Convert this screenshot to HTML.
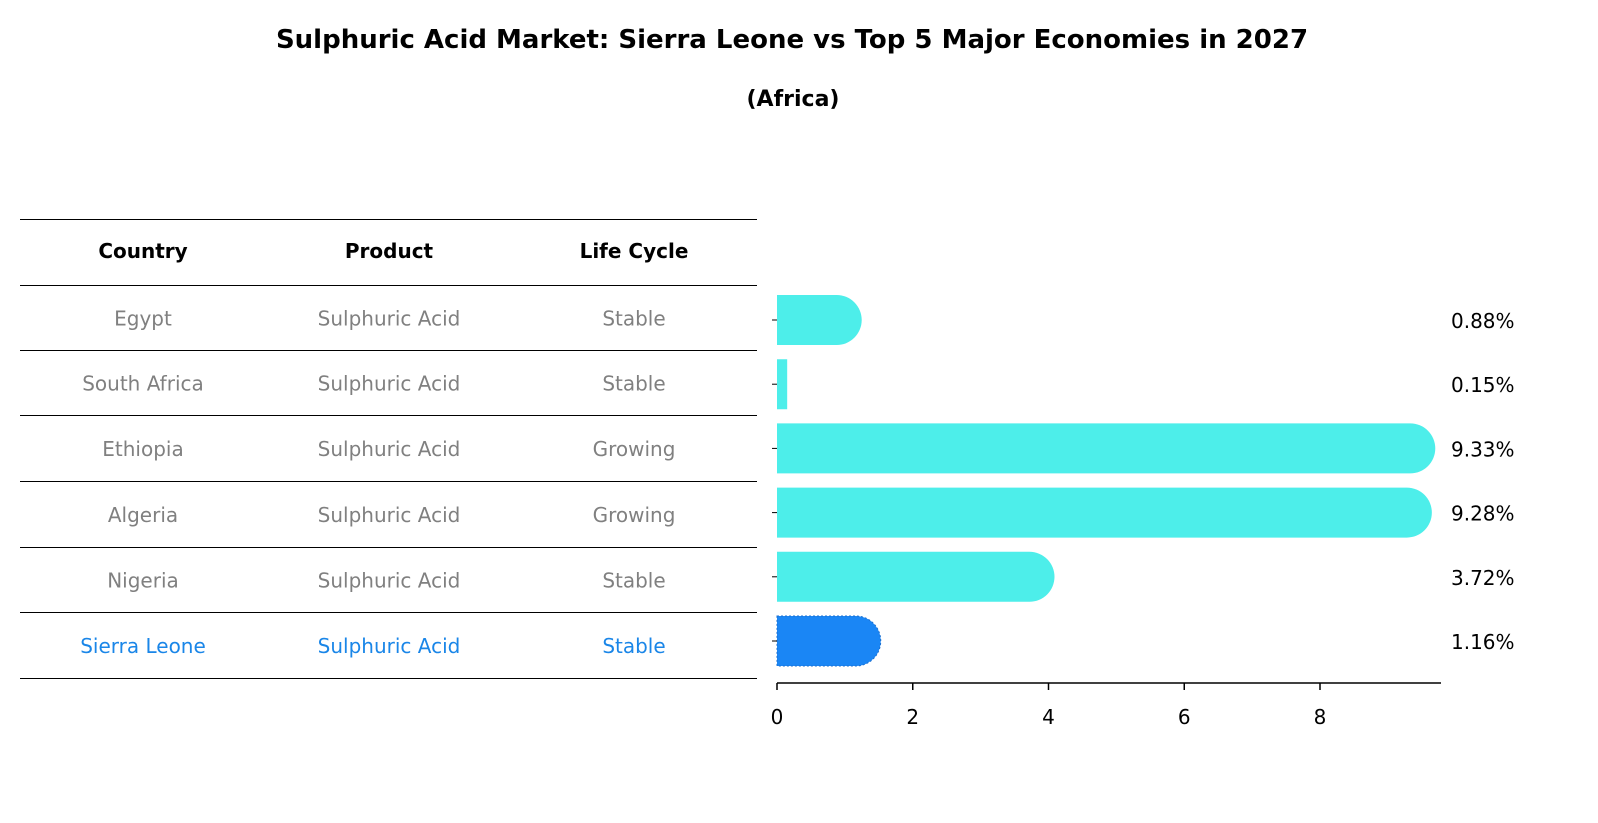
<!DOCTYPE html>
<html><head><meta charset="utf-8"><style>
body{margin:0;background:#fff;font-family:"DejaVu Sans","Liberation Sans",sans-serif}
svg{display:block}
</style></head><body>
<svg id="c" width="1598" height="823" xmlns="http://www.w3.org/2000/svg" font-family="DejaVu Sans, Liberation Sans, sans-serif">
<text x="792" y="48" text-anchor="middle" font-size="26" font-weight="bold">Sulphuric Acid Market: Sierra Leone vs Top 5 Major Economies in 2027</text>
<text x="793" y="106" text-anchor="middle" font-size="22" font-weight="bold">(Africa)</text>
<g id="tbl"></g>
<g id="bars"></g>
</svg>
<script>
const countries=["Egypt","South Africa","Ethiopia","Algeria","Nigeria","Sierra Leone"];
const products=["Sulphuric Acid","Sulphuric Acid","Sulphuric Acid","Sulphuric Acid","Sulphuric Acid","Sulphuric Acid"];
const lifeCycles=["Stable","Stable","Growing","Growing","Stable","Stable"];
const values=[0.88,0.15,9.33,9.28,3.72,1.16];
const xTicks=[0,2,4,6,8];
const NS="http://www.w3.org/2000/svg";
function mk(tag,attrs,parent,txt){const e=document.createElementNS(NS,tag);for(const k in attrs)e.setAttribute(k,attrs[k]);if(txt!==undefined)e.textContent=txt;parent.appendChild(e);return e;}
const x0=777,pxPerUnit=(1320-777)/8;
const xs=v=>x0+v*pxPerUnit;
const rowY=i=>320+i*64.2;
const tbl=document.getElementById('tbl');
const lines=[219,285,350,415,481,547,612,678];
lines.forEach(y=>{const l=mk('line',{x1:20,x2:757,y1:y+0.5,y2:y+0.5,stroke:'#000','stroke-width':1},tbl);

});
const cols=[143,389,634];
["Country","Product","Life Cycle"].forEach((h,j)=>{const t=mk('text',{x:cols[j],y:258,'text-anchor':'middle','font-size':20,'font-weight':'bold'},tbl,h);

});
countries.forEach((c,i)=>{const col=i===countries.length-1?'#1a86e8':'#808080';
[c,products[i],lifeCycles[i]].forEach((v,j)=>{const t=mk('text',{x:cols[j],y:(lines[i+1]+lines[i+2])/2+8,'text-anchor':'middle','font-size':20,fill:col},tbl,v);

});});
const bars=document.getElementById('bars');
const h=50,r=25;
values.forEach((v,i)=>{const y=rowY(i)-h/2,xe=xs(v);const last=i===values.length-1;
const fill=last?'#1a86f5':'#4deeea';let d;
if(xe-x0>r){d=`M${x0},${y}H${xe}A${r},${r} 0 0 1 ${xe},${y+h}H${x0}Z`;}else{d=`M${x0},${y}H${xe}V${y+h}H${x0}Z`;}
const p=mk('path',{d:d,fill:fill},bars);
if(last){p.setAttribute('stroke','#1a6fd0');p.setAttribute('stroke-dasharray','2,2');p.setAttribute('stroke-width','1');}


const t=mk('text',{x:1451,y:rowY(i)+8,'font-size':20},bars,v.toFixed(2)+'%');


const tk=mk('line',{x1:x0-5,x2:x0,y1:rowY(i),y2:rowY(i),stroke:'#000','stroke-width':1},bars);

});
const ax=mk('line',{x1:x0,x2:1441,y1:683,y2:683,stroke:'#000','stroke-width':1.5},bars);


xTicks.forEach(v=>{const l=mk('line',{x1:xs(v),x2:xs(v),y1:683,y2:690,stroke:'#000','stroke-width':1.5},bars);


const t=mk('text',{x:xs(v),y:724,'text-anchor':'middle','font-size':20},bars,String(v));

});
</script>
</body></html>
